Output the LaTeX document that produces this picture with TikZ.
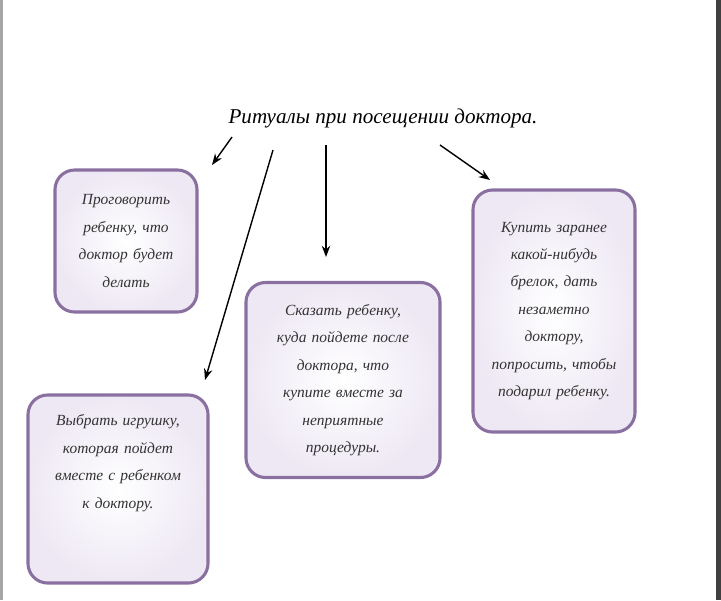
\documentclass[tikz,border=0pt]{standalone}
\usepackage{fontspec}
\setmainfont{Liberation Serif}
\usetikzlibrary{positioning, arrows.meta}
\definecolor{boxline}{HTML}{8A70A0}
\definecolor{boxfill}{HTML}{EEE8F4}
\tikzset{
  tipbox/.style={draw=boxline, line width=2.2pt, rounded corners=14pt, inner color=white, outer color=boxfill,
    inner sep=0.2cm, align=center, font=\itshape\fontsize{11}{19.5}\selectfont, text=black!80},
  pointer/.style={-{Stealth[length=8pt,width=6pt]}, line width=1pt}
}
\begin{document}
\begin{tikzpicture}[x=0.025cm,y=-0.025cm]
    \useasboundingbox (0,0) rectangle (721,600);
    % Frame edges
    \fill[gray!70] (0,0) rectangle (3,600);
    \fill[black!75] (716,0) rectangle (721,600);

    % Title
    \node[font=\itshape\fontsize{15}{17}\selectfont] (title) at (383,118) {Ритуалы при посещении доктора.};

    % Boxes
    \node[tipbox, text width=3.15cm, minimum height=3.55cm] (talk) at (126,241)
      {Проговорить\\ребенку, что\\доктор будет\\делать};
    \node[tipbox, text width=4.1cm, minimum height=4.7cm] (toy) at (118,489)
      {Выбрать игрушку,\\которая пойдет\\вместе с ребенком\\к доктору.\\\mbox{}\\\mbox{}};
    \node[tipbox, text width=4.45cm, minimum height=4.875cm] (tell) at (343,380)
      {Сказать ребенку,\\куда пойдете после\\доктора, что\\купите вместе за\\неприятные\\процедуры.};
    \node[tipbox, text width=3.65cm, minimum height=6.05cm] (gift) at (554,311)
      {Купить заранее\\какой-нибудь\\брелок, дать\\незаметно\\доктору,\\попросить, чтобы\\подарил ребенку.};

    % Arrows
    \coordinate (a1s) at (232,137); \coordinate (a1e) at (212,165);
    \coordinate (a2s) at (273,150); \coordinate (a2e) at (205,380);
    \coordinate (a3s) at (326,145); \coordinate (a3e) at (326,257);
    \coordinate (a4s) at (440,145); \coordinate (a4e) at (490,180);
    \draw[pointer] (a1s) -- (a1e);
    \draw[pointer] (a2s) -- (a2e);
    \draw[pointer] (a3s) -- (a3e);
    \draw[pointer] (a4s) -- (a4e);
\end{tikzpicture}
\end{document}
